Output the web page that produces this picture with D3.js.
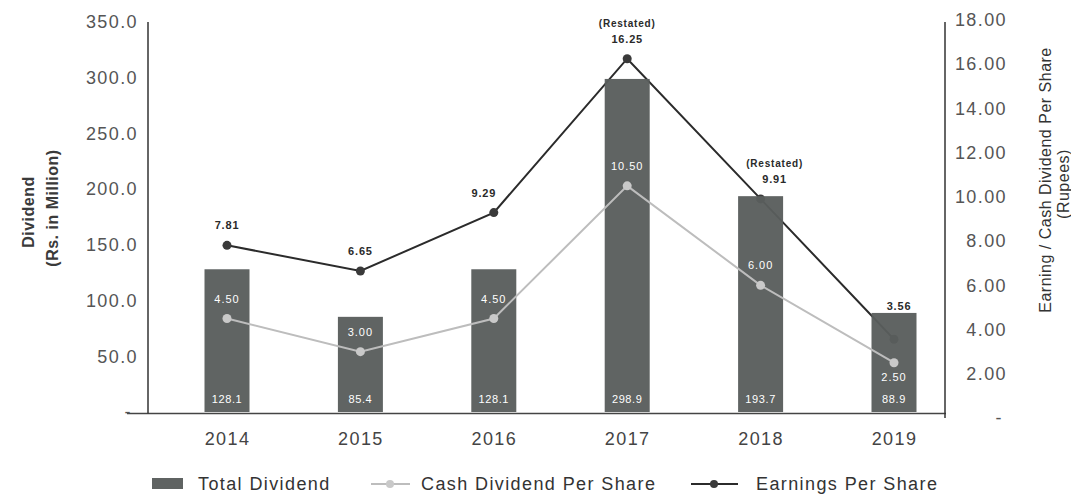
<!DOCTYPE html>
<html>
<head>
<meta charset="utf-8">
<script src="https://cdn.jsdelivr.net/npm/d3@7"></script>
<style>
  html, body { margin: 0; padding: 0; background: #fff; }
  svg { display: block; font-family: "Liberation Sans", Arial, Helvetica, sans-serif; }
</style>
</head>
<body>
<svg id="chart" width="1071" height="502"></svg>
<script>
// Dividend history, 2014-2019
const years = ["2014", "2015", "2016", "2017", "2018", "2019"];
const totalDividend = [128.1, 85.4, 128.1, 298.9, 193.7, 88.9];   // Rs. in million
const cashDividendPerShare = [4.50, 3.00, 4.50, 10.50, 6.00, 2.50]; // Rupees
const earningsPerShare = [7.81, 6.65, 9.29, 16.25, 9.91, 3.56];     // Rupees
const epsNotes = ["", "", "", "(Restated)", "(Restated)", ""];
const leftTicks = [0, 50, 100, 150, 200, 250, 300, 350];
const rightTicks = [0, 2, 4, 6, 8, 10, 12, 14, 16, 18];
const legendLabels = ["Total Dividend", "Cash Dividend Per Share", "Earnings Per Share"];

const svg = d3.select("#chart");

const x = d3.scalePoint().domain(years).range([227, 894]);
const yL = d3.scaleLinear().domain([0, 350]).range([412, 22]);
const yR = d3.scaleLinear().domain([0, 18]).range([418, 20]);

const barW = 45;
const barFill = "#5a5e5d";
const cashColor = "#bdbdbd";
const epsColor = "#2b2b2b";
const tickColor = "#555";

const rows = years.map((yr, i) => ({
  year: yr, total: totalDividend[i], cash: cashDividendPerShare[i],
  eps: earningsPerShare[i], note: epsNotes[i]
}));

// axis frame
const frame = svg.append("g");
frame.append("line").attr("x1", 127).attr("x2", 946)
  .attr("y1", yL(0) + 1.5).attr("y2", yL(0) + 1.5)
  .attr("stroke", "#444").attr("stroke-width", 1.6);
frame.append("line").attr("x1", 148).attr("x2", 148)
  .attr("y1", 22).attr("y2", yL(0) + 1.5)
  .attr("stroke", "#333").attr("stroke-width", 1.5);
frame.append("line").attr("x1", 945).attr("x2", 945)
  .attr("y1", 22).attr("y2", yR(0))
  .attr("stroke", "#333").attr("stroke-width", 1.5);

function styleTicks(g) {
  g.select(".domain").remove();
  g.selectAll("text")
    .attr("fill", tickColor)
    .style("font-size", "18px")
    .style("letter-spacing", "1.4px");
}

// left axis: dividend amount
svg.append("g")
  .attr("transform", "translate(148,0)")
  .call(d3.axisLeft(yL).tickValues(leftTicks).tickSize(0).tickPadding(10)
    .tickFormat(d => d === 0 ? "-" : d3.format(".1f")(d)))
  .call(styleTicks)
  .selectAll("text").filter(d => d === 0).attr("dx", -6);

// right axis: per share values, right-aligned labels
svg.append("g")
  .attr("transform", "translate(945,0)")
  .call(d3.axisRight(yR).tickValues(rightTicks).tickSize(0)
    .tickFormat(d => d === 0 ? "-" : d3.format(".2f")(d)))
  .call(styleTicks)
  .selectAll("text")
  .attr("text-anchor", "end")
  .attr("x", d => d === 0 ? 58 : 62);

// category axis
svg.append("g")
  .attr("transform", `translate(0,${yL(0)})`)
  .call(d3.axisBottom(x).tickSize(0).tickPadding(20))
  .call(styleTicks)
  .selectAll("text").attr("fill", "#444");

// axis titles
const leftTitle = svg.append("g").attr("fill", "#3a3a3a")
  .style("font-size", "16px").style("font-weight", "bold").style("letter-spacing", "0.5px");
leftTitle.append("text").attr("transform", "translate(28,212) rotate(-90)")
  .attr("text-anchor", "middle").attr("dominant-baseline", "central").text("Dividend");
leftTitle.append("text").attr("transform", "translate(52,208) rotate(-90)")
  .attr("text-anchor", "middle").attr("dominant-baseline", "central").text("(Rs. in Million)");

const rightTitle = svg.append("g").attr("fill", "#333")
  .style("font-size", "16px").style("letter-spacing", "0.5px");
rightTitle.append("text").attr("transform", "translate(1045,180) rotate(-90)")
  .attr("text-anchor", "middle").attr("dominant-baseline", "central")
  .text("Earning / Cash Dividend Per Share");
rightTitle.append("text").attr("transform", "translate(1063,184) rotate(-90)")
  .attr("text-anchor", "middle").attr("dominant-baseline", "central").text("(Rupees)");

// earnings per share line sits behind the bars
const epsLine = d3.line().x(d => x(d.year)).y(d => yR(d.eps));
svg.append("path").datum(rows).attr("d", epsLine)
  .attr("fill", "none").attr("stroke", epsColor).attr("stroke-width", 2);
svg.append("g").selectAll("circle").data(rows).join("circle")
  .attr("cx", d => x(d.year)).attr("cy", d => yR(d.eps)).attr("r", 4.5)
  .attr("fill", "#3a3a3a");

// total dividend bars
svg.append("g").selectAll("rect").data(rows).join("rect")
  .attr("x", d => x(d.year) - barW / 2).attr("width", barW)
  .attr("y", d => yL(d.total)).attr("height", d => yL(0) - yL(d.total))
  .attr("fill", barFill).attr("fill-opacity", 0.96);

// cash dividend per share line
const cashLine = d3.line().x(d => x(d.year)).y(d => yR(d.cash));
svg.append("path").datum(rows).attr("d", cashLine)
  .attr("fill", "none").attr("stroke", cashColor).attr("stroke-width", 2);
svg.append("g").selectAll("circle").data(rows).join("circle")
  .attr("cx", d => x(d.year)).attr("cy", d => yR(d.cash)).attr("r", 4.5)
  .attr("fill", "#c9c9c9");

// value labels
const small = svg.append("g").style("font-size", "11px");

small.selectAll("text.total").data(rows).join("text").attr("class", "total")
  .attr("x", d => x(d.year)).attr("y", yL(0) - 13)
  .attr("text-anchor", "middle").attr("dominant-baseline", "central")
  .attr("fill", "#fff").style("letter-spacing", "0.6px")
  .text(d => d3.format(".1f")(d.total));

small.selectAll("text.cash").data(rows).join("text").attr("class", "cash")
  .attr("x", d => x(d.year)).attr("y", (d, i) => yR(d.cash) + (i === rows.length - 1 ? 14 : -20))
  .attr("text-anchor", "middle").attr("dominant-baseline", "central")
  .attr("fill", "#fff").style("letter-spacing", "1px")
  .text(d => d3.format(".2f")(d.cash));

// horizontal nudges for the earnings labels
const epsLabelShift = { "2016": -10, "2018": 14, "2019": 5 };
const epsLabelLift = { "2019": 33 };
const epsLabels = small.selectAll("g.eps").data(rows).join("g").attr("class", "eps")
  .attr("transform", d => `translate(${x(d.year) + (epsLabelShift[d.year] || 0)},${yR(d.eps) - (epsLabelLift[d.year] || 20)})`)
  .attr("fill", "#2a2a2a").style("font-weight", "bold").style("letter-spacing", "0.8px");
epsLabels.append("text").attr("text-anchor", "middle").attr("dominant-baseline", "central")
  .text(d => d3.format(".2f")(d.eps));
epsLabels.filter(d => d.note).append("text").attr("y", -15)
  .attr("text-anchor", "middle").attr("dominant-baseline", "central")
  .style("font-size", "10px").text(d => d.note);

// legend
const legend = svg.append("g").attr("transform", "translate(0,484)")
  .style("font-size", "18px").style("letter-spacing", "1.4px").attr("fill", "#333");
legend.append("rect").attr("x", 152).attr("y", -6).attr("width", 31).attr("height", 11).attr("fill", "#5f6362");
legend.append("text").attr("x", 198).attr("dominant-baseline", "central").text(legendLabels[0]);
legend.append("line").attr("x1", 371).attr("x2", 410).attr("stroke", cashColor).attr("stroke-width", 2);
legend.append("circle").attr("cx", 390).attr("r", 4).attr("fill", "#c9c9c9");
legend.append("text").attr("x", 421).attr("dominant-baseline", "central").text(legendLabels[1]);
legend.append("line").attr("x1", 691).attr("x2", 738).attr("stroke", epsColor).attr("stroke-width", 2);
legend.append("circle").attr("cx", 714).attr("r", 4).attr("fill", "#3a3a3a");
legend.append("text").attr("x", 756).attr("dominant-baseline", "central").text(legendLabels[2]);
</script>
</body>
</html>
